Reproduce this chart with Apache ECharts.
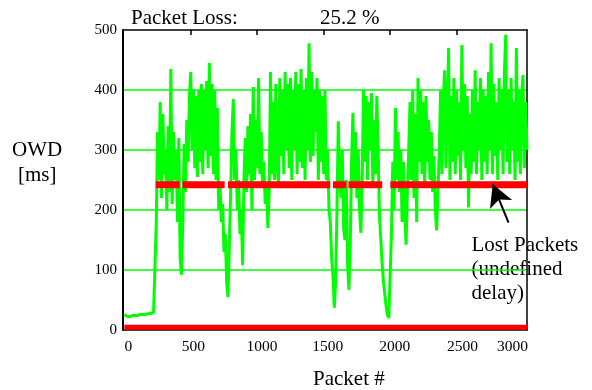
<!DOCTYPE html>
<html>
<head>
<meta charset="utf-8">
<script src="https://cdn.jsdelivr.net/npm/echarts@6/dist/echarts.min.js"></script>
<style>
html,body{margin:0;padding:0;background:#fff;}
#c{width:592px;height:390px;}
</style>
</head>
<body>
<div id="c"></div>
<script>
// ---- data ----
const packetStep = 10;          // OWD sampled every 10 packets, starting at packet 0
const owdMs = [
  26,24,23,24,22,23,24,23,24,25,24,25,26,25,26,27,26,28,27,29,28,30,29,31,
  175,330,250,380,220,360,260,300,200,340,230,435,210,330,250,300,180,320,120,92,
  180,310,230,350,280,390,430,300,400,270,390,255,400,280,410,260,400,300,415,270,445,290,410,260,400,250,370,200,
  240,180,210,130,160,80,55,140,230,330,385,250,300,200,250,160,200,108,
  250,320,230,340,260,360,200,405,250,350,270,420,260,330,240,280,210,240,170,230,
  430,260,380,250,410,280,240,420,290,400,260,430,300,410,270,420,250,400,300,430,
  260,410,280,435,270,400,250,420,300,478,280,430,290,400,330,420,250,400,280,390,
  260,400,250,300,200,180,120,90,37,80,200,
  348,250,220,300,170,150,250,110,67,140,
  280,362,240,330,220,300,200,162,250,
  400,280,390,250,380,300,395,240,350,260,390,
  300,190,150,110,80,60,40,25,20,22,
  160,280,200,370,250,330,230,300,180,280,200,142,230,
  300,380,250,400,220,360,180,420,280,400,260,380,240,390,280,350,250,330,230,290,200,166,230,
  300,400,260,380,433,270,360,470,250,390,280,420,260,400,290,380,250,475,300,410,
  270,390,204,360,260,400,280,433,260,380,300,420,250,400,280,390,260,430,300,478,
  260,410,290,380,250,420,300,400,260,430,492,280,400,260,420,300,380,250,470,280,
  400,260,390,425,270,380,300
];
// lost packets (undefined delay), plotted at a fixed level
const lostLevelMs = 242;
const lostStart = [237, 437, 780, 1570, 1686, 2002];
const lostEnd   = [417, 755, 1550, 1671, 1941, 3030];
const baseLevelMs = 4.5;
const baseRange = [0, 3030];
// axes
const xMin = -10, xMax = 3030;
const yMin = 0, yMax = 500, yStep = 100;
const xTickValues = [500, 1000, 1500, 2000, 2500];
const xTickLabels = ['0', '500', '1000', '1500', '2000', '2500', '3000'];
const xLabelAt = [30, 520, 1035, 1530, 2035, 2545, 2921];
// annotation
const arrowFrom = [2891, 179];
const arrowTo = [2772, 243];
const lossText = ['Packet Loss:', '25.2 %'];
const yTitle = ['OWD', '[ms]'];
const xTitle = 'Packet #';
const noteLines = ['Lost Packets', '(undefined', 'delay)'];

// ---- build ----
const owdData = owdMs.map((v, i) => [i * packetStep, v]);
const lostData = [];
lostStart.forEach((s, i) => {
  lostData.push([s, lostLevelMs], [lostEnd[i], lostLevelMs], [lostEnd[i] + 1, '-']);
});
const baseData = baseRange.map(x => [x, baseLevelMs]);

const FONT = "'Liberation Serif','Times New Roman',serif";
const BIG = 21;
const mid = b => b - 6.4; // baseline -> middle for 21px serif
const txt = (s, x, baseline) => ({
  type: 'text', x: x, y: mid(baseline), silent: true,
  style: {text: s, fontFamily: FONT, fontSize: BIG, fill: '#000', align: 'left', verticalAlign: 'middle'}
});

const chart = echarts.init(document.getElementById('c'), null, {renderer: 'canvas'});
chart.setOption({
  animation: false,
  backgroundColor: '#fff',
  grid: {left: 123, top: 30, width: 404, height: 300, show: false},
  xAxis: [{
    type: 'value', min: xMin, max: xMax, position: 'bottom',
    axisLine: {show: true, onZero: false, lineStyle: {color: '#000', width: 1.5}},
    axisTick: {show: true, inside: true, length: 5, customValues: xTickValues, lineStyle: {color: '#000', width: 1.5}},
    axisLabel: {show: true, customValues: xLabelAt, margin: 9,
      formatter: v => xTickLabels[xLabelAt.indexOf(v)],
      color: '#000', fontFamily: FONT, fontSize: 15.5},
    splitLine: {show: false}
  }, {
    type: 'value', min: xMin, max: xMax, position: 'top',
    axisLine: {show: true, onZero: false, lineStyle: {color: '#000', width: 1.5}},
    axisTick: {show: true, inside: true, length: 5, customValues: xTickValues, lineStyle: {color: '#000', width: 1.5}},
    axisLabel: {show: false},
    splitLine: {show: false}
  }],
  yAxis: [{
    type: 'value', min: yMin, max: yMax, interval: yStep, position: 'left',
    axisLine: {show: true, onZero: false, lineStyle: {color: '#000', width: 2}},
    axisTick: {show: false},
    axisLabel: {show: true, margin: 6, color: '#000', fontFamily: FONT, fontSize: 15},
    splitLine: {show: true, showMinLine: false, showMaxLine: false, lineStyle: {color: '#00ff00', width: 1.5}}
  }, {
    type: 'value', min: yMin, max: yMax, interval: yStep, position: 'right',
    axisLine: {show: true, onZero: false, lineStyle: {color: '#000', width: 1.5}},
    axisTick: {show: false}, axisLabel: {show: false}, splitLine: {show: false}
  }],
  series: [{
    type: 'line', name: 'OWD', data: owdData, xAxisIndex: 0, yAxisIndex: 0,
    showSymbol: false, symbol: 'none', z: 2,
    lineStyle: {color: '#00ff00', width: 3}
  }, {
    type: 'line', name: 'Lost', data: lostData, xAxisIndex: 0, yAxisIndex: 0,
    showSymbol: false, symbol: 'none', connectNulls: false, z: 3,
    lineStyle: {color: '#ff0000', width: 7},
    markLine: {
      silent: true, symbol: ['none', 'arrow'], symbolSize: [18, 22],
      lineStyle: {color: '#000', width: 2, type: 'solid'},
      itemStyle: {color: '#000'},
      label: {show: false},
      data: [[{coord: arrowFrom}, {coord: arrowTo}]]
    }
  }, {
    type: 'line', name: 'Base', data: baseData, xAxisIndex: 0, yAxisIndex: 0,
    showSymbol: false, symbol: 'none', z: 3,
    lineStyle: {color: '#ff0000', width: 5}
  }],
  graphic: [
    txt(lossText[0], 131, 25),
    txt(lossText[1], 320, 25),
    txt(yTitle[0], 12, 156.5),
    txt(yTitle[1], 18, 181.5),
    txt(xTitle, 313, 385.5),
    txt(noteLines[0], 471.5, 252),
    txt(noteLines[1], 471.5, 276),
    txt(noteLines[2], 471.5, 300)
  ]
});
</script>
</body>
</html>
